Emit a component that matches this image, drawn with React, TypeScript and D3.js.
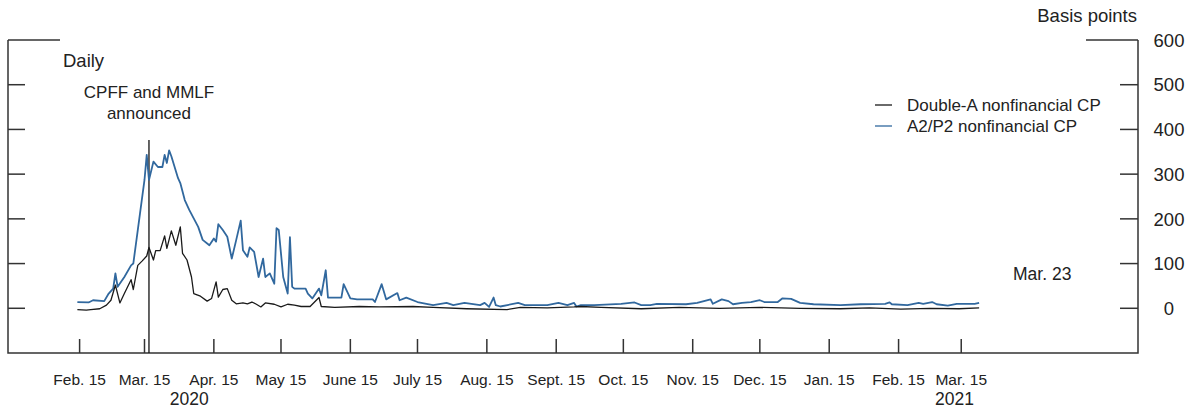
import { useEffect, useRef } from 'react';
import * as d3 from 'd3';

// Spread of 30-day CP rates over the risk-free rate, basis points
const doubleADates = [
  '2020-02-14', '2020-02-18', '2020-02-20', '2020-02-24', '2020-02-27', '2020-02-29',
  '2020-03-02', '2020-03-04', '2020-03-06', '2020-03-09', '2020-03-10', '2020-03-12',
  '2020-03-14', '2020-03-16', '2020-03-17', '2020-03-19', '2020-03-20', '2020-03-22',
  '2020-03-24', '2020-03-25', '2020-03-27', '2020-03-29', '2020-03-31', '2020-04-01',
  '2020-04-03', '2020-04-05', '2020-04-06', '2020-04-09', '2020-04-12', '2020-04-14',
  '2020-04-16', '2020-04-17', '2020-04-19', '2020-04-21', '2020-04-23', '2020-04-25',
  '2020-04-28', '2020-04-30', '2020-05-02', '2020-05-04', '2020-05-06', '2020-05-08',
  '2020-05-12', '2020-05-15', '2020-05-18', '2020-05-21', '2020-05-24', '2020-05-28',
  '2020-06-01', '2020-06-02', '2020-06-08', '2020-06-19', '2020-06-28', '2020-07-13',
  '2020-07-22', '2020-08-06', '2020-08-24', '2020-08-30', '2020-09-11', '2020-09-23',
  '2020-09-26', '2020-10-05', '2020-10-23', '2020-11-09', '2020-11-27', '2020-12-15',
  '2021-01-02', '2021-01-20', '2021-02-02', '2021-02-16', '2021-03-01', '2021-03-14',
  '2021-03-23',
];
const doubleAValues = [
  -3, -4, -3, -1, 7, 18,
  52, 12, 33, 64, 42, 96,
  106, 117, 136, 108, 129, 129,
  162, 134, 173, 141, 182, 123,
  108, 70, 33, 27, 16, 22,
  59, 25, 42, 44, 18, 10,
  12, 10, 14, 9, 3, 12,
  9, 3, 9, 7, 4, 4,
  24, 4, 2, 4, 3, 4,
  2, -1, -3, 2, 1, 3,
  4, 2, -1, 2, 0, 2,
  0, -1, 1, -2, 0, -1,
  1,
];

const a2p2Dates = [
  '2020-02-14', '2020-02-19', '2020-02-21', '2020-02-26', '2020-02-28', '2020-03-01',
  '2020-03-02', '2020-03-03', '2020-03-06', '2020-03-09', '2020-03-10', '2020-03-12',
  '2020-03-13', '2020-03-15', '2020-03-16', '2020-03-17', '2020-03-19', '2020-03-21',
  '2020-03-23', '2020-03-24', '2020-03-25', '2020-03-26', '2020-03-27', '2020-03-30',
  '2020-03-31', '2020-04-02', '2020-04-04', '2020-04-06', '2020-04-08', '2020-04-10',
  '2020-04-13', '2020-04-15', '2020-04-16', '2020-04-17', '2020-04-19', '2020-04-21',
  '2020-04-23', '2020-04-25', '2020-04-27', '2020-04-28', '2020-04-30', '2020-05-01',
  '2020-05-03', '2020-05-05', '2020-05-07', '2020-05-08', '2020-05-10', '2020-05-12',
  '2020-05-13', '2020-05-14', '2020-05-16', '2020-05-18', '2020-05-19', '2020-05-20',
  '2020-05-21', '2020-05-26', '2020-05-27', '2020-05-29', '2020-06-01', '2020-06-02',
  '2020-06-04', '2020-06-05', '2020-06-11', '2020-06-12', '2020-06-15', '2020-06-18',
  '2020-06-25', '2020-06-26', '2020-06-29', '2020-07-01', '2020-07-06', '2020-07-07',
  '2020-07-10', '2020-07-15', '2020-07-19', '2020-07-22', '2020-07-28', '2020-07-31',
  '2020-08-05', '2020-08-12', '2020-08-14', '2020-08-16', '2020-08-18', '2020-08-19',
  '2020-08-21', '2020-08-29', '2020-09-01', '2020-09-11', '2020-09-16', '2020-09-20',
  '2020-09-23', '2020-09-24', '2020-09-26', '2020-10-02', '2020-10-14', '2020-10-20',
  '2020-10-23', '2020-10-27', '2020-10-30', '2020-11-12', '2020-11-17', '2020-11-23',
  '2020-11-24', '2020-11-28', '2020-12-01', '2020-12-03', '2020-12-07', '2020-12-11',
  '2020-12-15', '2020-12-17', '2020-12-23', '2020-12-25', '2020-12-29', '2021-01-02',
  '2021-01-08', '2021-01-20', '2021-01-29', '2021-02-09', '2021-02-11', '2021-02-12',
  '2021-02-19', '2021-02-24', '2021-02-26', '2021-03-02', '2021-03-04', '2021-03-09',
  '2021-03-13', '2021-03-21', '2021-03-23',
];
const a2p2Values = [
  14, 13, 18, 16, 33, 44,
  78, 48, 70, 96, 100, 175,
  212, 287, 343, 287, 328, 316,
  316, 343, 325, 353, 340, 291,
  280, 242, 220, 201, 182, 153,
  141, 156, 149, 188, 175, 160,
  111, 153, 196, 130, 115, 136,
  126, 70, 111, 70, 78, 55,
  179, 175, 70, 33, 159, 48,
  44, 44, 33, 22, 44, 29,
  85, 24, 24, 54, 22, 20,
  20, 14, 54, 20, 34, 18,
  24, 14, 10, 7, 12, 7,
  12, 7, 12, 3, 24, 7,
  4, 12, 7, 7, 12, 7,
  12, 4, 7, 7, 10, 13,
  7, 7, 10, 9, 12, 20,
  10, 20, 16, 9, 12, 14,
  18, 14, 14, 22, 21, 12,
  9, 7, 9, 10, 13, 9,
  7, 12, 10, 14, 9, 6,
  10, 10, 12,
];

const xTickDates = [
  '2020-02-15', '2020-03-15', '2020-04-15', '2020-05-15', '2020-06-15', '2020-07-15',
  '2020-08-15', '2020-09-15', '2020-10-15', '2020-11-15', '2020-12-15', '2021-01-15',
  '2021-02-15', '2021-03-15',
];
const xTickLabels = [
  'Feb. 15', 'Mar. 15', 'Apr. 15', 'May 15', 'June 15', 'July 15', 'Aug. 15',
  'Sept. 15', 'Oct. 15', 'Nov. 15', 'Dec. 15', 'Jan. 15', 'Feb. 15', 'Mar. 15',
];
const yearLabels = ['2020', '2021'];
const yearLabelDates = ['2020-04-04', '2021-03-12'];
const yTicks = [0, 100, 200, 300, 400, 500, 600];

const seriesNames = ['Double-A nonfinancial CP', 'A2/P2 nonfinancial CP'];
const seriesColors = ['#1a1a1a', '#31689e'];

const announceDate = '2020-03-17';
const lastDateLabel = 'Mar. 23';

export default function App() {
  const svgRef = useRef<SVGSVGElement>(null);

  useEffect(() => {
    if (!svgRef.current) return;

    const width = 1194;
    const height = 411;
    const frame = { left: 8, right: 1138, top: 40, bottom: 353 };
    const font = 'Arial, "Liberation Sans", Helvetica, sans-serif';
    const ink = '#222';
    const parse = d3.utcParse('%Y-%m-%d');

    d3.select(svgRef.current).selectAll('*').remove();

    const svg = d3
      .select(svgRef.current)
      .attr('width', width)
      .attr('height', height)
      .attr('viewBox', `0 0 ${width} ${height}`)
      .style('font-family', font);

    const x = d3
      .scaleUtc()
      .domain([parse('2020-01-14')!, parse('2021-06-02')!])
      .range([frame.left, frame.right]);

    const y = d3.scaleLinear().domain([-100, 600]).range([frame.bottom, frame.top]);

    // Frame: full sides and bottom, broken top
    const border = svg.append('g').attr('stroke', '#333').attr('stroke-width', 1.5).attr('fill', 'none');
    border
      .append('path')
      .attr('d', `M${frame.left},${frame.top}V${frame.bottom}H${frame.right}V${frame.top}`);
    border.append('line').attr('x1', frame.left).attr('x2', 60).attr('y1', frame.top).attr('y2', frame.top);
    border.append('line').attr('x1', 1086).attr('x2', frame.right).attr('y1', frame.top).attr('y2', frame.top);

    // Y ticks on both sides, labels on the right
    const yt = svg.append('g');
    yt.selectAll('line.l')
      .data(yTicks.slice(0, -1))
      .enter()
      .append('line')
      .attr('x1', frame.left)
      .attr('x2', frame.left + 17)
      .attr('y1', (d) => y(d))
      .attr('y2', (d) => y(d))
      .attr('stroke', '#333')
      .attr('stroke-width', 1.5);
    yt.selectAll('line.r')
      .data(yTicks.slice(0, -1))
      .enter()
      .append('line')
      .attr('x1', frame.right - 18)
      .attr('x2', frame.right)
      .attr('y1', (d) => y(d))
      .attr('y2', (d) => y(d))
      .attr('stroke', '#333')
      .attr('stroke-width', 1.5);
    yt.selectAll('text')
      .data(yTicks)
      .enter()
      .append('text')
      .attr('x', 1169)
      .attr('y', (d) => y(d))
      .attr('dy', '0.36em')
      .attr('text-anchor', 'middle')
      .attr('font-size', '18.5px')
      .attr('fill', ink)
      .text((d) => d);

    svg
      .append('text')
      .attr('x', 1137)
      .attr('y', 22)
      .attr('text-anchor', 'end')
      .attr('font-size', '18.5px')
      .attr('fill', ink)
      .text('Basis points');

    // X ticks
    const xt = svg.append('g');
    xt.selectAll('line')
      .data(xTickDates)
      .enter()
      .append('line')
      .attr('x1', (d) => x(parse(d)!))
      .attr('x2', (d) => x(parse(d)!))
      .attr('y1', frame.bottom)
      .attr('y2', frame.bottom - 14)
      .attr('stroke', '#333')
      .attr('stroke-width', 1.5);
    xt.selectAll('text')
      .data(xTickDates)
      .enter()
      .append('text')
      .attr('x', (d) => x(parse(d)!))
      .attr('y', 385)
      .attr('text-anchor', 'middle')
      .attr('font-size', '15.5px')
      .attr('fill', ink)
      .text((d, i) => xTickLabels[i]);
    xt.selectAll('text.year')
      .data(yearLabels)
      .enter()
      .append('text')
      .attr('class', 'year')
      .attr('x', (d, i) => x(parse(yearLabelDates[i])!))
      .attr('y', 405)
      .attr('text-anchor', 'middle')
      .attr('font-size', '17.5px')
      .attr('fill', ink)
      .text((d) => d);

    // Announcement marker
    const ax = x(parse(announceDate)!);
    svg
      .append('line')
      .attr('x1', ax)
      .attr('x2', ax)
      .attr('y1', 140)
      .attr('y2', frame.bottom)
      .attr('stroke', '#111')
      .attr('stroke-width', 1.3);
    svg
      .append('text')
      .attr('x', ax)
      .attr('y', 98)
      .attr('text-anchor', 'middle')
      .attr('font-size', '17px')
      .attr('fill', ink)
      .text('CPFF and MMLF');
    svg
      .append('text')
      .attr('x', ax)
      .attr('y', 119)
      .attr('text-anchor', 'middle')
      .attr('font-size', '17px')
      .attr('fill', ink)
      .text('announced');

    svg
      .append('text')
      .attr('x', 63)
      .attr('y', 67)
      .attr('font-size', '18.5px')
      .attr('fill', ink)
      .text('Daily');

    // Lines
    const line = d3
      .line<[Date, number]>()
      .x((d) => x(d[0]))
      .y((d) => y(d[1]));

    const doubleA: [Date, number][] = doubleADates.map((d, i) => [parse(d)!, doubleAValues[i]]);
    const a2p2: [Date, number][] = a2p2Dates.map((d, i) => [parse(d)!, a2p2Values[i]]);

    svg
      .append('path')
      .datum(a2p2)
      .attr('d', line)
      .attr('fill', 'none')
      .attr('stroke', seriesColors[1])
      .attr('stroke-width', 1.8)
      .attr('stroke-linejoin', 'round');
    svg
      .append('path')
      .datum(doubleA)
      .attr('d', line)
      .attr('fill', 'none')
      .attr('stroke', seriesColors[0])
      .attr('stroke-width', 1.3)
      .attr('stroke-linejoin', 'round');

    svg
      .append('text')
      .attr('x', 1013)
      .attr('y', 280)
      .attr('font-size', '17.5px')
      .attr('fill', ink)
      .text(lastDateLabel);

    // Legend
    const legend = svg.append('g').attr('transform', 'translate(875, 105)');
    seriesNames.forEach((name, i) => {
      const g = legend.append('g').attr('transform', `translate(0, ${i * 21})`);
      g.append('line')
        .attr('x1', 0)
        .attr('x2', 17)
        .attr('y1', 0)
        .attr('y2', 0)
        .attr('stroke', seriesColors[i])
        .attr('stroke-width', 1.3);
      g.append('text')
        .attr('x', 32)
        .attr('y', 0)
        .attr('dy', '0.35em')
        .attr('font-size', '17px')
        .attr('fill', ink)
        .text(name);
    });
  }, []);

  return <svg ref={svgRef} style={{ position: 'absolute', left: 0, top: 0 }} />;
}
